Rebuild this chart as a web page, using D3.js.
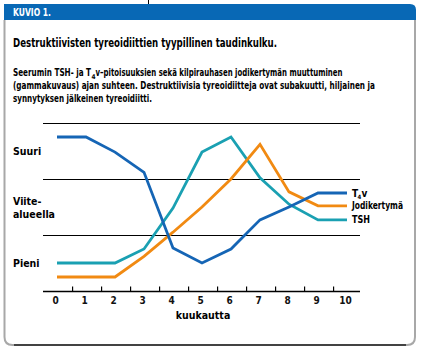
<!DOCTYPE html>
<html>
<head>
<meta charset="utf-8">
<script src="https://cdn.jsdelivr.net/npm/d3@7"></script>
<style>
  body { margin: 0; background: #fff; }
  text { font-family: "Liberation Sans Narrow", "DejaVu Sans Condensed", "Liberation Sans", sans-serif; }
</style>
</head>
<body>
<div id="chart"></div>
<script>
var months = [0, 1, 2, 3, 4, 5, 6, 7, 8, 9, 10];
var t4v = [2.75, 2.75, 2.48, 2.12, 0.77, 0.5, 0.75, 1.27, 1.5, 1.75, 1.75];
var jodikertyma = [0.25, 0.25, 0.25, 0.62, 1.05, 1.5, 2.0, 2.62, 1.77, 1.52, 1.52];
var tsh = [0.5, 0.5, 0.5, 0.75, 1.48, 2.48, 2.75, 2.02, 1.55, 1.27, 1.27];
var levelLabels = [
    { v: 2.5, lines: ["Suuri"] },
    { v: 1.5, lines: ["Viite-", "alueella"] },
    { v: 0.5, lines: ["Pieni"] }
];
var gridValues = [0, 1, 2, 3];

function init() {
    var w = 421;
    var h = 351;

    var svg = d3.select("#chart")
        .append("svg")
        .attr("width", w)
        .attr("height", h);

    // frame
    svg.append("path")
        .attr("d", "M4.5,20 V337 Q4.5,345 12.5,345 H407 Q415,345 415,337 V20")
        .attr("fill", "none")
        .attr("stroke", "#a8a8a8")
        .attr("stroke-width", 2);
    svg.append("line")
        .attr("x1", 14).attr("x2", 406)
        .attr("y1", 345).attr("y2", 345)
        .style("stroke", "#222")
        .style("stroke-width", 1.5);

    // header bar
    svg.append("path")
        .attr("d", "M4,4 H410 Q416,4 416,10 V20 H4 Z")
        .attr("fill", "#0868b5");
    svg.append("line")
        .attr("x1", 148.5).attr("x2", 148.5)
        .attr("y1", 0).attr("y2", 4)
        .style("stroke", "#000");
    svg.append("text")
        .attr("x", 13).attr("y", 16)
        .attr("fill", "#fff")
        .style("font-weight", "bold")
        .style("font-size", "10.5px")
        .attr("textLength", 38)
        .attr("lengthAdjust", "spacingAndGlyphs")
        .text("KUVIO 1.");

    svg.append("text")
        .attr("x", 13).attr("y", 47)
        .style("font-weight", "bold")
        .style("font-size", "13px")
        .attr("textLength", 264)
        .attr("lengthAdjust", "spacingAndGlyphs")
        .text("Destruktiivisten tyreoidiittien tyypillinen taudinkulku.");

    function desc(x, y, len, s) {
        return svg.append("text")
            .attr("x", x).attr("y", y)
            .style("font-size", "10.5px")
            .style("font-weight", "bold")
            .attr("textLength", len)
            .attr("lengthAdjust", "spacingAndGlyphs")
            .text(s);
    }
    desc(13, 76, 78, "Seerumin TSH- ja T");
    svg.append("text").attr("x", 91.5).attr("y", 78.5)
        .style("font-size", "6.5px").style("font-weight", "bold").text("4");
    desc(95.5, 76, 247, "v\u2013pitoisuuksien sekä kilpirauhasen jodikertymän muuttuminen");
    desc(13, 89, 362, "(gammakuvaus) ajan suhteen. Destruktiivisia tyreoidiitteja ovat subakuutti, hiljainen ja");
    desc(13, 102, 139, "synnytyksen jälkeinen tyreoidiitti.");

    // chart
    var xScale = d3.scaleLinear().domain([0, 10]).range([57, 347]);
    var yScale = d3.scaleLinear().domain([0, 3]).range([291, 123]);
    var gridLeft = 43, gridRight = 360;

    svg.append("g").selectAll("line")
        .data(gridValues)
        .enter().append("line")
        .attr("x1", gridLeft).attr("x2", gridRight)
        .attr("y1", function (d) { return yScale(d) + 0.5; })
        .attr("y2", function (d) { return yScale(d) + 0.5; })
        .style("stroke", "#000")
        .style("stroke-width", function (d) { return d === 0 ? 1.3 : 1; });

    // ticks sit between the month labels
    var tickAxis = d3.axisBottom(xScale)
        .tickValues(months.slice(0, 10).map(function (m) { return m + 0.52; }))
        .tickSizeInner(-5)
        .tickSizeOuter(0)
        .tickFormat("");
    var tg = svg.append("g")
        .attr("transform", "translate(0," + (yScale(0) + 0.5) + ")")
        .call(tickAxis);
    tg.select(".domain").remove();
    tg.selectAll("line").style("stroke", "#000").style("stroke-width", 1.2);

    var labelAxis = d3.axisBottom(xScale)
        .tickValues(months)
        .tickSize(0)
        .tickPadding(6)
        .tickFormat(d3.format("d"));
    var lg = svg.append("g")
        .attr("transform", "translate(-2," + yScale(0) + ")")
        .call(labelAxis);
    lg.select(".domain").remove();
    lg.selectAll("text")
        .style("font-family", "'Liberation Sans Narrow', 'DejaVu Sans Condensed', sans-serif")
        .style("font-size", "10px")
        .style("font-weight", "bold")
        .attr("fill", "#111");

    svg.append("text")
        .attr("x", 203).attr("y", 319)
        .attr("text-anchor", "middle")
        .style("font-size", "10.5px")
        .style("font-weight", "bold")
        .text("kuukautta");

    // level labels
    levelLabels.forEach(function (l) {
        var t = svg.append("text")
            .attr("x", 13)
            .attr("y", yScale(l.v) + 4 - (l.lines.length - 1) * 6.5)
            .style("font-size", "10.5px")
            .style("font-weight", "bold");
        l.lines.forEach(function (s, i) {
            t.append("tspan").attr("x", 13).attr("dy", i === 0 ? 0 : 13).text(s);
        });
    });

    var line = d3.line()
        .x(function (d, i) { return xScale(months[i]); })
        .y(function (d) { return yScale(d); });

    var series = [
        { name: "T4v", values: t4v, color: "#1565b5" },
        { name: "Jodikertymä", values: jodikertyma, color: "#f18a12" },
        { name: "TSH", values: tsh, color: "#1aa0b2" }
    ];

    [series[2], series[1], series[0]].forEach(function (s) {
        svg.append("path")
            .datum(s.values)
            .attr("fill", "none")
            .attr("stroke", s.color)
            .attr("stroke-width", 2.8)
            .attr("stroke-linejoin", "miter")
            .attr("d", line);
    });

    series.forEach(function (s) {
        var lx = xScale(10) + 5;
        var ly = yScale(s.values[10]) + 3.5;
        if (s.name === "T4v") {
            svg.append("text").attr("x", lx).attr("y", ly)
                .style("font-size", "10px").style("font-weight", "bold").text("T");
            svg.append("text").attr("x", lx + 5.5).attr("y", ly + 2)
                .style("font-size", "6px").style("font-weight", "bold").text("4");
            svg.append("text").attr("x", lx + 9.5).attr("y", ly)
                .style("font-size", "10px").style("font-weight", "bold").text("v");
        } else {
            svg.append("text").attr("x", lx).attr("y", ly)
                .style("font-size", "10px").style("font-weight", "bold")
                .attr("textLength", s.name === "TSH" ? 18 : 51)
                .attr("lengthAdjust", "spacingAndGlyphs")
                .text(s.name);
        }
    });
}

window.onload = init;
</script>
</body>
</html>
